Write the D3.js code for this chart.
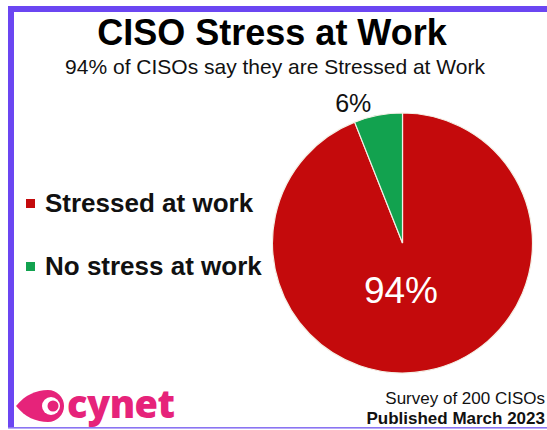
<!DOCTYPE html>
<html><head><meta charset="utf-8">
<script src="https://cdn.jsdelivr.net/npm/d3@7"></script>
<style>html,body{margin:0;padding:0;background:#fff;}svg{display:block;}</style>
</head><body>
<script>
const categories = ["Stressed at work", "No stress at work"];
const values = [94, 6];
const valueLabels = ["94%", "6%"];
const colors = ["#c40a0c", "#12a24f"];
const title = "CISO Stress at Work";
const subtitle = "94% of CISOs say they are Stressed at Work";
const footer = ["Survey of 200 CISOs", "Published March 2023"];
const brand = "cynet";

const W = 547, H = 430;
const svg = d3.select("body").append("svg").attr("width", W).attr("height", H);
const purple = "#6b46f2";
const font = "'Liberation Sans', Arial, sans-serif";

svg.append("rect").attr("width", W).attr("height", H).attr("fill", "#fff");
// frame
svg.append("rect").attr("x", 8).attr("y", 6).attr("width", W - 8).attr("height", 6).attr("fill", purple);
svg.append("rect").attr("x", 8).attr("y", 6).attr("width", 6).attr("height", 422).attr("fill", purple);
svg.append("rect").attr("x", 8).attr("y", 427).attr("width", W - 8).attr("height", 1.6).attr("fill", "#8a74f2");

// titles
svg.append("text").attr("x", 272).attr("y", 45).attr("text-anchor", "middle")
  .attr("font-family", font).attr("font-weight", "bold").attr("font-size", 36).attr("fill", "#000").text(title);
svg.append("text").attr("x", 275).attr("y", 74).attr("text-anchor", "middle")
  .attr("font-family", font).attr("font-size", 21).attr("fill", "#111").text(subtitle);

// pie
const cx = 402.5, cy = 243, R = 130;
const pie = d3.pie().sort(null).value(d => d)(values);
const arc = d3.arc().innerRadius(0).outerRadius(R);
const g = svg.append("g").attr("transform", `translate(${cx},${cy})`);
g.selectAll("path").data(pie).join("path")
  .attr("d", arc).attr("fill", (d, i) => colors[i])
  .attr("stroke", "#f4f0e6").attr("stroke-width", 1.2);

// labels
const p0 = d3.pointRadial(Math.PI, R * 0.36);
g.append("text").attr("x", p0[0] - 1.5).attr("y", p0[1]).attr("dy", "0.36em").attr("text-anchor", "middle")
  .attr("font-family", font).attr("font-size", 37).attr("fill", "#fff").text(valueLabels[0]);
const d1 = pie[1];
const p1 = d3.pointRadial(d1.startAngle + (d1.endAngle - d1.startAngle) * 0.1, R + 18);
g.append("text").attr("x", p1[0]).attr("y", p1[1]).attr("dy", "0.36em").attr("text-anchor", "middle")
  .attr("font-family", font).attr("font-size", 25).attr("fill", "#111").text(valueLabels[1]);

// legend
const ly = [212, 275];
const lg = svg.append("g");
categories.forEach((c, i) => {
  lg.append("rect").attr("x", 26).attr("y", ly[i] - 13).attr("width", 9).attr("height", 9).attr("fill", colors[i]);
  lg.append("text").attr("x", 45).attr("y", ly[i]).attr("font-family", font).attr("font-weight", "bold")
    .attr("font-size", 26).attr("fill", "#111").text(c);
});

// footer
svg.append("text").attr("x", 545).attr("y", 404).attr("text-anchor", "end")
  .attr("font-family", font).attr("font-size", 17).attr("fill", "#111").text(footer[0]);
svg.append("text").attr("x", 545).attr("y", 424).attr("text-anchor", "end")
  .attr("font-family", font).attr("font-weight", "bold").attr("font-size", 17).attr("fill", "#111").text(footer[1]);

// brand logo
const pink = "#e6237a";
const logo = svg.append("g");
logo.append("path").attr("d", "M16,406 C25,395 36,390 48,390 A16,16 0 0 1 48,422 C36,422 25,417 16,406 Z").attr("fill", pink);
logo.append("circle").attr("cx", 51).attr("cy", 406).attr("r", 9).attr("fill", "#fff");
logo.append("circle").attr("cx", 53).attr("cy", 406).attr("r", 5.5).attr("fill", pink);
logo.append("text").attr("x", 67).attr("y", 418).attr("font-family", "'Open Sans', sans-serif").attr("font-weight", "800")
  .attr("font-size", 38).attr("fill", pink).attr("letter-spacing", -0.5).text(brand);
</script>
</body></html>
